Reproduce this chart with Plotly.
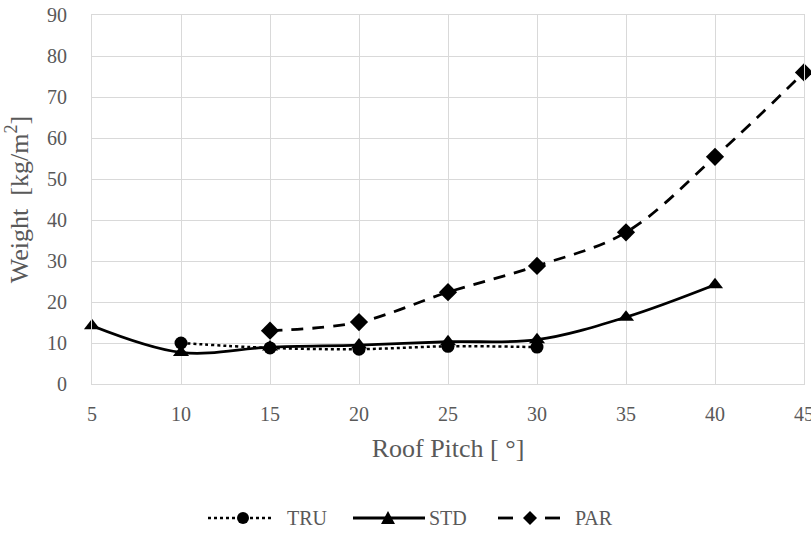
import plotly.graph_objects as go

tru_x = [10, 15, 20, 25, 30]
tru_y = [10.0, 8.8, 8.5, 9.2, 9.0]
std_x = [5, 10, 15, 20, 25, 30, 35, 40]
std_y = [14.2, 7.7, 9.0, 9.5, 10.3, 10.8, 16.3, 24.2]
par_x = [15, 20, 25, 30, 35, 40, 45]
par_y = [13.0, 15.1, 22.4, 28.8, 37.0, 55.4, 76.0]

x_ticks = [5, 10, 15, 20, 25, 30, 35, 40, 45]
y_ticks = [0, 10, 20, 30, 40, 50, 60, 70, 80, 90]

FONT = "Liberation Serif, Times New Roman, serif"
GRAY = "#595959"

W, H = 811, 533
ML, MR, MT, MB = 92, 7, 15, 149
PW, PH = W - ML - MR, H - MT - MB


def px(x):
    return (x - ML) / PW


def py(y):
    return (H - MB - y) / PH


fig = go.Figure()
fig.add_trace(go.Scatter(x=tru_x, y=tru_y, name="TRU", mode="lines+markers", cliponaxis=False,
                         line=dict(color="black", width=2.5, dash="dot", shape="spline"),
                         marker=dict(symbol="circle", size=13, color="black")))
fig.add_trace(go.Scatter(x=std_x, y=std_y, name="STD", mode="lines+markers", cliponaxis=False,
                         line=dict(color="black", width=2.8, shape="spline"),
                         marker=dict(symbol="triangle-up", size=14, color="black")))
fig.add_trace(go.Scatter(x=par_x, y=par_y, name="PAR", mode="lines+markers", cliponaxis=False,
                         line=dict(color="black", width=2.8, dash="12px,9px", shape="spline"),
                         marker=dict(symbol="diamond", size=14, color="black")))

# custom legend (drawn in paper coordinates)
LY = 518
shapes = []
annotations = []
# TRU
shapes.append(dict(type="line", xref="paper", yref="paper", x0=px(208), x1=px(272), y0=py(LY), y1=py(LY),
                   line=dict(color="black", width=2.5, dash="dot")))
shapes.append(dict(type="circle", xref="paper", yref="paper", x0=px(237), x1=px(249), y0=py(LY - 6), y1=py(LY + 6),
                   fillcolor="black", line=dict(color="black", width=0)))
# STD
shapes.append(dict(type="line", xref="paper", yref="paper", x0=px(353), x1=px(425), y0=py(LY), y1=py(LY),
                   line=dict(color="black", width=2.8)))
shapes.append(dict(type="path", xref="paper", yref="paper",
                   path=f"M {px(381)} {py(LY + 6)} L {px(395)} {py(LY + 6)} L {px(388)} {py(LY - 7)} Z",
                   fillcolor="black", line=dict(color="black", width=0)))
# PAR
shapes.append(dict(type="line", xref="paper", yref="paper", x0=px(498), x1=px(513), y0=py(LY), y1=py(LY),
                   line=dict(color="black", width=2.8)))
shapes.append(dict(type="line", xref="paper", yref="paper", x0=px(545), x1=px(560), y0=py(LY), y1=py(LY),
                   line=dict(color="black", width=2.8)))
shapes.append(dict(type="path", xref="paper", yref="paper",
                   path=f"M {px(523)} {py(LY)} L {px(530)} {py(LY - 7)} L {px(537)} {py(LY)} L {px(530)} {py(LY + 7)} Z",
                   fillcolor="black", line=dict(color="black", width=0)))
for name, x0 in [("TRU", 285), ("STD", 427), ("PAR", 573)]:
    annotations.append(dict(text=name, xref="paper", yref="paper", x=px(x0), y=py(LY),
                            xanchor="left", yanchor="middle", showarrow=False,
                            font=dict(family=FONT, size=20, color=GRAY)))

fig.update_layout(
    width=W, height=H,
    margin=dict(l=ML, r=MR, t=MT, b=MB, autoexpand=False),
    paper_bgcolor="white", plot_bgcolor="white",
    font=dict(family=FONT, size=18, color=GRAY),
    showlegend=False,
    shapes=shapes,
    annotations=annotations,
    xaxis=dict(range=[5, 45], tickvals=x_ticks, showgrid=True, gridcolor="#d9d9d9",
               gridwidth=1, showline=True, linecolor="#d9d9d9", mirror=True,
               zeroline=False, ticks="outside", ticklen=12, tickcolor="rgba(0,0,0,0)",
               ticklabeloverflow="allow", automargin=False,
               tickfont=dict(family=FONT, size=20, color=GRAY),
               title=dict(text="Roof Pitch [ °]", font=dict(family=FONT, size=26, color=GRAY), standoff=14)),
    yaxis=dict(range=[0, 90], tickvals=y_ticks, showgrid=True, gridcolor="#d9d9d9",
               gridwidth=1, showline=True, linecolor="#d9d9d9", mirror=True,
               zeroline=False, ticks="outside", ticklen=20, tickcolor="rgba(0,0,0,0)",
               automargin=False,
               tickfont=dict(family=FONT, size=20, color=GRAY),
               title=dict(text="Weight  [kg/m<sup>2</sup>]", font=dict(family=FONT, size=26, color=GRAY), standoff=10)),
)

fig.write_html("out.html")
